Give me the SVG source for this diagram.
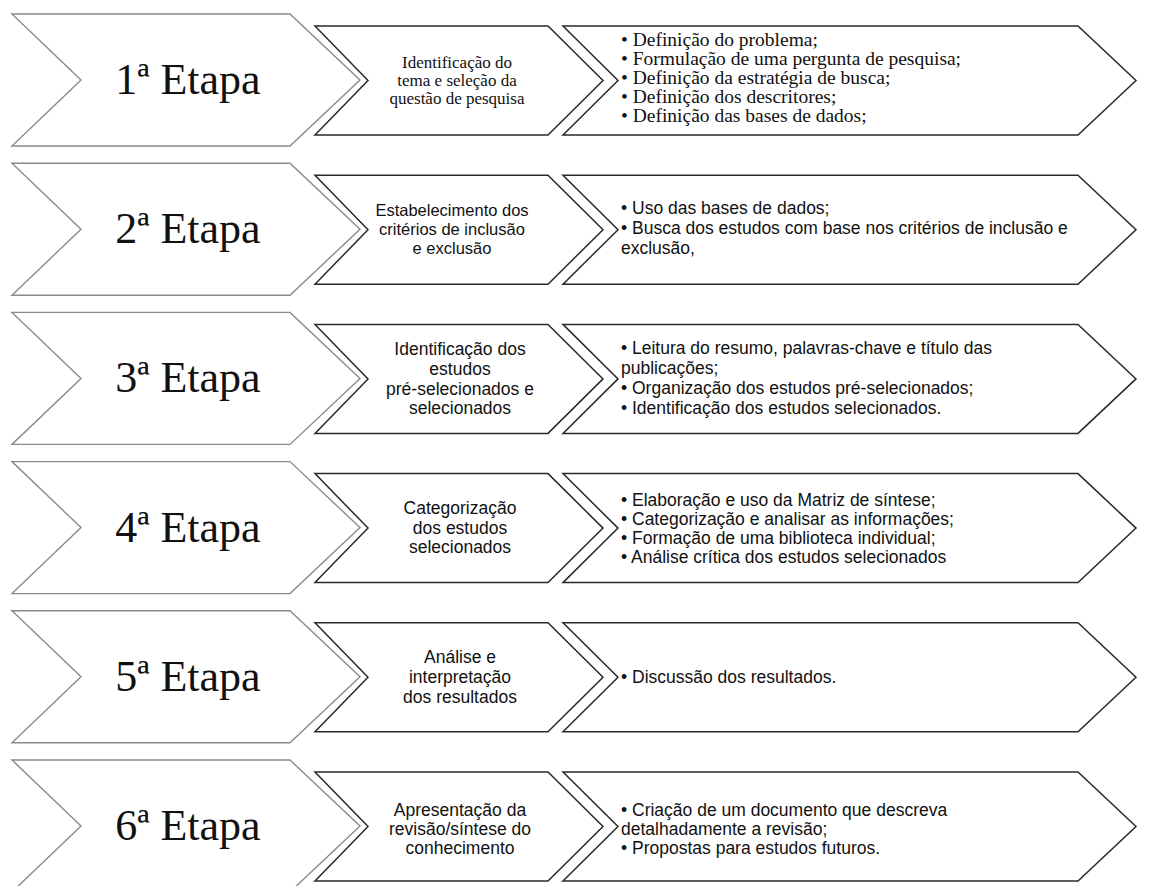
<svg xmlns="http://www.w3.org/2000/svg" xmlns:xlink="http://www.w3.org/1999/xlink" width="1153" height="886" viewBox="0 0 1153 886">
<style>
.big{fill:#fff;stroke:#8a8a8a;stroke-width:1.4}
.box{fill:#fff;stroke:#2a2a2a;stroke-width:1.5}
.et{font-family:"Liberation Serif","Times New Roman",serif;font-size:44px;fill:#111;text-anchor:middle}
.sm{font-family:"Liberation Serif","Times New Roman",serif;font-size:17px;fill:#111;text-anchor:middle}
.sl{font-family:"Liberation Serif","Times New Roman",serif;font-size:19.5px;fill:#111}
.cm{font-family:"Liberation Sans",Arial,sans-serif;font-size:17.5px;fill:#111;text-anchor:middle}
.cm2{font-family:"Liberation Sans",Arial,sans-serif;font-size:16.5px;fill:#111;text-anchor:middle}
.cl{font-family:"Liberation Sans",Arial,sans-serif;font-size:17.5px;fill:#111}
</style>
<defs>
<polygon id="pBig" points="12,14 290,14 360,80 290,146 12,146 81,80"/>
<polygon id="pMed" points="315,26 548,26 603,80.5 548,135 315,135 368,80.5"/>
<polygon id="pLong" points="563,26 1078,26 1136,80.5 1078,135 563,135 618,80.5"/>
</defs>
<rect width="1153" height="886" fill="#fff"/>

<!-- Row 1 -->
<g id="etapa1">
<use xlink:href="#pBig" class="big"/>
<text class="et" x="188" y="94">1ª Etapa</text>
</g>
<g id="tema1">
<use xlink:href="#pMed" class="box"/>
<text class="sm" x="457" y="68">Identificação do</text>
<text class="sm" x="457" y="86">tema e seleção da</text>
<text class="sm" x="457" y="104">questão de pesquisa</text>
</g>
<g id="acoes1">
<use xlink:href="#pLong" class="box"/>
<text class="sl" x="621" y="46">• Definição do problema;</text>
<text class="sl" x="621" y="65">• Formulação de uma pergunta de pesquisa;</text>
<text class="sl" x="621" y="84">• Definição da estratégia de busca;</text>
<text class="sl" x="621" y="103">• Definição dos descritores;</text>
<text class="sl" x="621" y="122">• Definição das bases de dados;</text>
</g>

<!-- Row 2 -->
<g id="etapa2" transform="translate(0,149.2)">
<use xlink:href="#pBig" class="big"/>
<text class="et" x="188" y="94">2ª Etapa</text>
</g>
<g id="tema2" transform="translate(0,149.2)">
<use xlink:href="#pMed" class="box"/>
<text class="cm2" x="452" y="67">Estabelecimento dos</text>
<text class="cm2" x="452" y="86">critérios de inclusão</text>
<text class="cm2" x="452" y="105">e exclusão</text>
</g>
<g id="acoes2" transform="translate(0,149.2)">
<use xlink:href="#pLong" class="box"/>
<text class="cl" x="621" y="65">• Uso das bases de dados;</text>
<text class="cl" x="621" y="85">• Busca dos estudos com base nos critérios de inclusão e</text>
<text class="cl" x="621" y="105">exclusão,</text>
</g>

<!-- Row 3 -->
<g id="etapa3" transform="translate(0,298.4)">
<use xlink:href="#pBig" class="big"/>
<text class="et" x="188" y="94">3ª Etapa</text>
</g>
<g id="tema3" transform="translate(0,298.4)">
<use xlink:href="#pMed" class="box"/>
<text class="cm" x="460" y="57">Identificação dos</text>
<text class="cm" x="460" y="77">estudos</text>
<text class="cm" x="460" y="97">pré-selecionados e</text>
<text class="cm" x="460" y="116">selecionados</text>
</g>
<g id="acoes3" transform="translate(0,298.4)">
<use xlink:href="#pLong" class="box"/>
<text class="cl" x="621" y="56">• Leitura do resumo, palavras-chave e título das</text>
<text class="cl" x="621" y="76">publicações;</text>
<text class="cl" x="621" y="96">• Organização dos estudos pré-selecionados;</text>
<text class="cl" x="621" y="116">• Identificação dos estudos selecionados.</text>
</g>

<!-- Row 4 -->
<g id="etapa4" transform="translate(0,447.6)">
<use xlink:href="#pBig" class="big"/>
<text class="et" x="188" y="94">4ª Etapa</text>
</g>
<g id="tema4" transform="translate(0,447.6)">
<use xlink:href="#pMed" class="box"/>
<text class="cm" x="460" y="66">Categorização</text>
<text class="cm" x="460" y="86">dos estudos</text>
<text class="cm" x="460" y="105">selecionados</text>
</g>
<g id="acoes4" transform="translate(0,447.6)">
<use xlink:href="#pLong" class="box"/>
<text class="cl" x="621" y="58">• Elaboração e uso da Matriz de síntese;</text>
<text class="cl" x="621" y="77">• Categorização e analisar as informações;</text>
<text class="cl" x="621" y="96">• Formação de uma biblioteca individual;</text>
<text class="cl" x="621" y="115">• Análise crítica dos estudos selecionados</text>
</g>

<!-- Row 5 -->
<g id="etapa5" transform="translate(0,596.8)">
<use xlink:href="#pBig" class="big"/>
<text class="et" x="188" y="94">5ª Etapa</text>
</g>
<g id="tema5" transform="translate(0,596.8)">
<use xlink:href="#pMed" class="box"/>
<text class="cm" x="460" y="66">Análise e</text>
<text class="cm" x="460" y="86">interpretação</text>
<text class="cm" x="460" y="106">dos resultados</text>
</g>
<g id="acoes5" transform="translate(0,596.8)">
<use xlink:href="#pLong" class="box"/>
<text class="cl" x="621" y="86">• Discussão dos resultados.</text>
</g>

<!-- Row 6 -->
<g id="etapa6" transform="translate(0,746)">
<use xlink:href="#pBig" class="big"/>
<text class="et" x="188" y="94">6ª Etapa</text>
</g>
<g id="tema6" transform="translate(0,746)">
<use xlink:href="#pMed" class="box"/>
<text class="cm" x="460" y="70">Apresentação da</text>
<text class="cm" x="460" y="89">revisão/síntese do</text>
<text class="cm" x="460" y="108">conhecimento</text>
</g>
<g id="acoes6" transform="translate(0,746)">
<use xlink:href="#pLong" class="box"/>
<text class="cl" x="621" y="70">• Criação de um documento que descreva</text>
<text class="cl" x="621" y="89">detalhadamente a revisão;</text>
<text class="cl" x="621" y="108">• Propostas para estudos futuros.</text>
</g>

<g id="connectors"></g>
</svg>
